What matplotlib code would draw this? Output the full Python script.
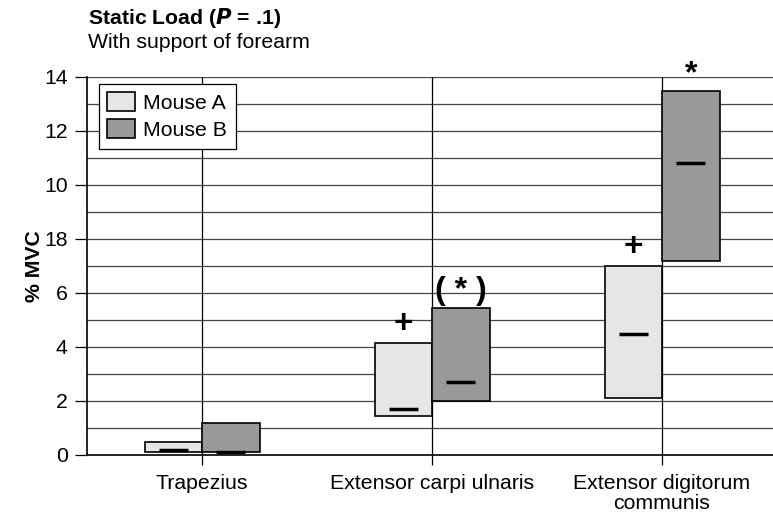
import numpy as np
import matplotlib.pyplot as plt

plt.rcParams['font.family'] = ['Liberation Sans', 'DejaVu Sans']

# data
muscles = ['Trapezius', 'Extensor carpi ulnaris', 'Extensor digitorum\ncommunis']
a_low = [0.1, 1.45, 2.1]
a_high = [0.5, 4.15, 7.0]
a_med = [0.2, 1.7, 4.5]
b_low = [0.1, 2.0, 7.2]
b_high = [1.2, 5.45, 13.5]
b_med = [0.1, 2.7, 10.8]
a_marks = ['', '+', '+']
b_marks = ['', '( * )', '*']
ytick_vals = [0, 2, 4, 6, 8, 10, 12, 14]
ytick_labels = ['0', '2', '4', '6', '18', '10', '12', '14']

col_a = '#e6e6e6'
col_b = '#999999'
fs = 15.3

fig = plt.figure(figsize=(7.73, 5.16), dpi=100)
ax = fig.add_axes([87/773, 61/516, 690/773, 378/516])

x = np.arange(len(muscles))
w = 0.25

# horizontal grid every unit, vertical lines at category centres
for yv in range(1, 15):
    ax.axhline(yv, color='#444444', lw=0.9, zorder=0)
for xv in x:
    ax.axvline(xv, color='black', lw=0.9, zorder=0)

ax.bar(x - w/2, np.array(a_high) - np.array(a_low), w, bottom=a_low,
       color=col_a, edgecolor='black', linewidth=1.2, label='Mouse A', zorder=2)
ax.bar(x + w/2, np.array(b_high) - np.array(b_low), w, bottom=b_low,
       color=col_b, edgecolor='black', linewidth=1.2, label='Mouse B', zorder=2)

# medians and significance marks
for i in range(len(muscles)):
    ax.plot([x[i] - w/2 - w/4, x[i] - w/2 + w/4], [a_med[i]] * 2,
            color='black', lw=2.5, solid_capstyle='butt', zorder=3)
    ax.plot([x[i] + w/2 - w/4, x[i] + w/2 + w/4], [b_med[i]] * 2,
            color='black', lw=2.5, solid_capstyle='butt', zorder=3)
    if a_marks[i]:
        ax.text(x[i] - w/2, a_high[i] + 0.12, a_marks[i], ha='center', va='bottom',
                fontsize=24, fontweight='bold', zorder=4)
    if b_marks[i]:
        ax.text(x[i] + w/2, b_high[i] + 0.05, b_marks[i], ha='center', va='bottom',
                fontsize=23, fontweight='bold', zorder=4)

ax.set_xlim(-0.5, 2.5)
ax.set_ylim(0, 14)
ax.set_yticks(ytick_vals)
ax.set_yticklabels(ytick_labels, fontsize=fs)
ax.set_xticks(x)
ax.set_xticklabels(muscles, fontsize=fs, linespacing=1.05)
ax.tick_params(axis='y', length=9, width=0.9, pad=5)
ax.tick_params(axis='x', length=7, width=0.9, pad=7)
for s in ['top', 'right']:
    ax.spines[s].set_visible(False)
ax.spines['left'].set_linewidth(1.2)
ax.spines['bottom'].set_linewidth(1.2)
ax.set_ylabel('% MVC', fontsize=fs, fontweight='bold', labelpad=0)

leg = ax.legend(loc='upper left', bbox_to_anchor=(0.017, 0.982), fontsize=fs,
                frameon=True, fancybox=False, edgecolor='black', framealpha=1,
                handlelength=1.3, handleheight=1.0, borderpad=0.4, labelspacing=0.3,
                handletextpad=0.4, borderaxespad=0)
leg.get_frame().set_linewidth(0.9)
leg.set_zorder(5)

fig.text(88/773, 1 - 18/516, r'Static Load ($\bfit{P}$ = .1)', fontsize=fs,
         fontweight='bold', va='center', ha='left')
fig.text(88/773, 1 - 42/516, 'With support of forearm', fontsize=fs,
         va='center', ha='left')

fig.savefig('out.png', dpi=100)
